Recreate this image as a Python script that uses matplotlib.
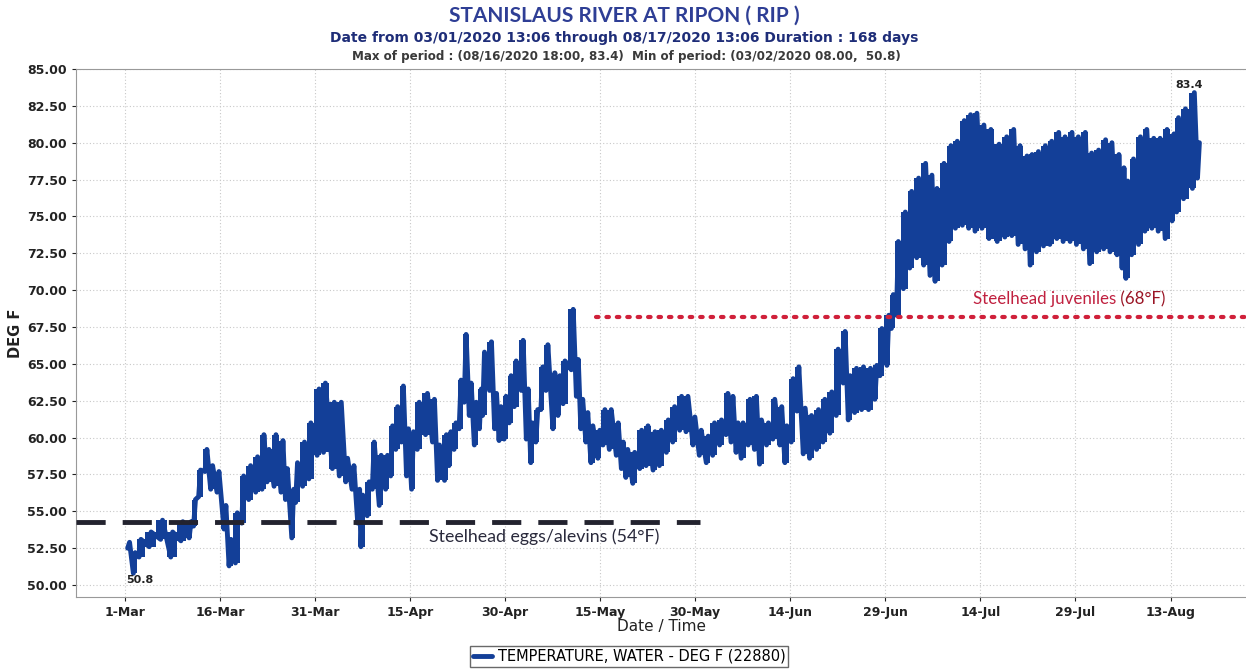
import numpy as np
import matplotlib
matplotlib.use('Agg')
import matplotlib.pyplot as plt
import matplotlib.dates as mdates
from datetime import datetime

# readings: days after 1-Mar, daily high / daily low (DEG F)
day = [0.6, 1.5, 2.4, 4.0, 5.8, 7.4, 9.0, 10.3, 11.0, 11.8,
       12.8, 13.7, 14.7, 15.8, 16.6, 17.6, 18.6, 19.7, 20.8, 21.8,
       22.6, 23.7, 24.8, 25.5, 26.5, 27.1, 28.2, 29.2, 30.5, 31.5,
       32.9, 34.0, 35.0, 36.0, 36.9, 37.4, 38.4, 39.2, 40.3, 41.3,
       42.1, 42.9, 43.8, 44.6, 45.4, 46.3, 47.6, 48.7, 49.5, 50.6,
       51.3, 52.1, 52.9, 53.7, 54.5, 55.3, 56.1, 56.6, 57.7, 58.5,
       59.2, 60.0, 60.8, 61.6, 62.7, 63.5, 64.2, 65.0, 65.8, 66.6,
       67.7, 68.5, 69.3, 70.6, 71.4, 72.1, 72.9, 73.7, 74.8, 75.6,
       76.6, 77.7, 78.5, 79.2, 80.3, 81.4, 82.4, 83.5, 84.5, 85.6,
       86.6, 87.7, 88.7, 89.8, 90.8, 91.9, 92.9, 94.0, 95.0, 95.8,
       96.6, 97.4, 98.5, 99.5, 100.3, 101.4, 102.4, 103.5, 104.3, 105.3,
       106.2, 107.2, 108.2, 109.3, 110.3, 111.4, 112.4, 113.5, 114.3, 115.3,
       116.4, 117.5, 118.5, 119.3, 120.4, 121.1, 121.9, 123.0, 124.0, 125.1,
       126.2, 127.2, 128.0, 129.1, 130.2, 131.2, 132.3, 133.3, 134.3, 135.4,
       136.5, 137.8, 139.0, 140.1, 141.1, 142.2, 143.0, 144.0, 145.1, 146.1,
       147.2, 148.2, 149.3, 150.3, 151.4, 152.4, 153.5, 154.6, 155.6, 156.7,
       157.5, 158.1, 159.0, 160.1, 161.1, 162.2, 163.2, 164.3, 165.4, 166.1,
       167.2, 168.6, 169.4]
high = [52.9, 52.2, 53.1, 53.6, 54.4, 53.6, 54.3, 54.3, 55.8, 57.8,
        59.2, 58.1, 57.7, 55.4, 53.1, 54.9, 57.4, 58.1, 58.7, 60.2,
        59.2, 60.2, 59.8, 57.9, 56.5, 58.3, 59.7, 61.0, 63.3, 63.7,
        62.4, 62.4, 58.6, 58.1, 56.5, 56.1, 57.0, 59.7, 58.8, 58.8,
        60.8, 62.1, 63.5, 60.6, 60.4, 62.4, 63.0, 62.6, 59.5, 60.2,
        60.4, 61.0, 63.9, 67.0, 63.7, 62.4, 63.3, 65.8, 66.5, 63.0,
        62.1, 62.8, 64.2, 65.2, 66.6, 63.3, 61.0, 61.9, 64.8, 66.3,
        64.4, 64.2, 65.2, 68.7, 65.3, 62.6, 61.7, 60.8, 60.5, 61.9,
        61.9, 61.0, 59.7, 59.2, 59.0, 60.5, 60.8, 60.4, 60.5, 61.2,
        62.1, 62.8, 62.8, 61.4, 60.5, 60.1, 61.0, 61.2, 63.0, 62.8,
        61.0, 61.0, 62.6, 62.8, 61.2, 61.0, 62.6, 62.1, 60.8, 64.0,
        64.8, 62.0, 61.5, 61.9, 62.6, 63.1, 66.0, 67.2, 64.2, 64.7,
        64.8, 64.7, 64.9, 67.4, 68.3, 69.7, 73.3, 75.3, 76.7, 77.6,
        78.6, 77.8, 76.9, 78.6, 79.8, 80.1, 81.5, 81.9, 82.0, 81.2,
        80.9, 79.9, 80.4, 80.9, 79.8, 79.1, 79.2, 79.4, 79.8, 80.1,
        80.7, 80.4, 80.7, 80.4, 80.7, 79.3, 79.5, 80.2, 80.0, 79.2,
        78.3, 77.4, 78.9, 80.4, 80.9, 80.3, 80.3, 80.9, 80.6, 81.7,
        82.3, 83.4, 80.0]
low = [52.5, 50.8, 51.9, 52.6, 53.1, 51.9, 53.0, 53.2, 54.0, 56.0,
       57.7, 56.5, 56.3, 53.8, 51.3, 51.5, 54.2, 55.8, 56.3, 56.5,
       57.0, 56.7, 56.3, 55.8, 53.2, 55.6, 56.7, 57.2, 58.8, 59.0,
       57.9, 57.4, 57.0, 56.5, 54.2, 52.6, 54.7, 56.5, 55.4, 56.5,
       57.4, 59.2, 59.7, 57.4, 56.5, 59.2, 60.2, 59.7, 57.1, 57.1,
       58.1, 59.2, 60.6, 62.4, 61.5, 59.5, 60.6, 61.5, 63.2, 60.6,
       59.8, 59.9, 61.0, 62.1, 63.2, 59.9, 58.3, 59.7, 61.9, 63.2,
       60.6, 61.5, 62.3, 64.6, 62.8, 60.6, 59.7, 58.3, 58.6, 59.5,
       59.2, 58.8, 57.9, 57.3, 56.9, 57.9, 58.1, 57.8, 58.1, 59.0,
       59.7, 60.5, 60.4, 59.5, 58.8, 58.3, 58.8, 59.5, 60.2, 59.7,
       59.0, 58.6, 59.5, 59.2, 58.2, 59.5, 59.9, 59.5, 58.3, 59.7,
       61.8, 58.9, 58.6, 59.2, 59.7, 60.3, 61.5, 63.7, 61.2, 61.7,
       61.9, 61.9, 62.6, 64.2, 64.9, 67.4, 68.3, 70.1, 71.5, 72.2,
       71.7, 71.0, 70.6, 71.7, 73.3, 74.2, 74.4, 74.2, 74.0, 74.2,
       73.5, 73.3, 73.6, 73.7, 73.1, 72.8, 71.7, 72.6, 73.0, 73.1,
       73.5, 73.3, 73.3, 73.1, 72.8, 71.8, 72.6, 72.8, 72.6, 72.4,
       71.5, 70.8, 72.4, 73.1, 74.0, 74.2, 74.0, 73.5, 74.7, 75.3,
       76.2, 76.9, 77.6]

tick_days = [0, 15, 30, 45, 60, 75, 90, 105, 120, 135, 150, 165]
tick_labels = ['1-Mar', '16-Mar', '31-Mar', '15-Apr', '30-Apr', '15-May',
               '30-May', '14-Jun', '29-Jun', '14-Jul', '29-Jul', '13-Aug']

eggs_level, eggs_end = 54.3, 90.8
juv_level, juv_start = 68.2, 74.4
min_day, min_val = 1.33, 50.8
max_day, max_val = 168.75, 83.4

base = mdates.date2num(datetime(2020, 3, 1))
xlo, xhi = base - 7.7, base + 177.1

# diurnal swing: low in the morning, high late in the day
t, v = [], []
for d, h, l in zip(day, high, low):
    t += [d - 0.15, d + 0.15]
    v += [l, h]
t = base + np.array(t)

fig = plt.figure(figsize=(12.46, 6.69), dpi=100)
ax = fig.add_axes([0.061, 0.1076, 0.94, 0.7893])

navy = '#133f98'
# hourly trace is so dense it reads as a solid band between the daily extremes
ax.fill_between(base + np.array(day), low, high, step='mid', color=navy, lw=0, zorder=3)
ax.plot(t, v, color=navy, lw=3.5, solid_joinstyle='round', solid_capstyle='round',
        zorder=3, label='TEMPERATURE, WATER - DEG F (22880)')

ax.hlines(eggs_level, xlo, base + eggs_end, colors='#23232f', lw=3.5,
          linestyles=(0, (6, 3.5)), zorder=4)
ax.hlines(juv_level, base + juv_start, xhi, colors='#d0203a', lw=3,
          linestyles=(0, (0.6, 1.9)), capstyle='round', zorder=4)

ax.text(base + 48, eggs_level - 1.0, 'Steelhead eggs/alevins (54°F)',
        fontsize=12.8, family='Lato', color='#2a2a3c', ha='left', va='center')
juv = ax.text(base + 133.8, juv_level + 1.2, 'Steelhead juveniles',
              fontsize=12.2, family='Lato', color='#c0203f', ha='left', va='center')
ax.annotate(' (68°F)', xy=(1, 0.5), xycoords=juv, fontsize=12.2, family='Lato',
            color='#9a1525', ha='left', va='center')

ax.text(base + min_day - 1.1, min_val - 0.1, '%.1f' % min_val, fontsize=8,
        fontweight='bold', color='#222222', ha='left', va='top', zorder=5)
ax.text(base + max_day - 0.8, max_val + 0.15, '%.1f' % max_val, fontsize=8,
        fontweight='bold', color='#222222', ha='center', va='bottom', zorder=5)

ax.set_xlim(xlo, xhi)
ax.set_ylim(49.19, 85.0)
ax.set_yticks(np.arange(50, 85.01, 2.5))
ax.yaxis.set_major_formatter(matplotlib.ticker.FormatStrFormatter('%.2f'))
ax.set_xticks([base + d for d in tick_days])
ax.set_xticklabels(tick_labels)
ax.tick_params(labelsize=9, colors='#222222', length=3, width=0.8)
for lab in ax.get_xticklabels() + ax.get_yticklabels():
    lab.set_fontweight('bold')
ax.grid(True, color='#c8c8c8', lw=0.8, linestyle=(0, (1, 2)))
for s in ax.spines.values():
    s.set_color('#999999')
    s.set_linewidth(0.8)

ax.set_ylabel('DEG F', fontsize=10.5, fontweight='bold', color='#222222', labelpad=3)
ax.set_xlabel('Date / Time', fontsize=11, color='#222222', labelpad=0)

fig.text(0.501, 0.976, 'STANISLAUS RIVER AT RIPON ( RIP )', ha='center', va='center',
         fontsize=15, fontweight='bold', color='#2e3e95', family='Lato')
fig.text(0.501, 0.943, 'Date from 03/01/2020 13:06 through 08/17/2020 13:06 Duration : 168 days',
         ha='center', va='center', fontsize=10, fontweight='bold', color='#1e2d78')
fig.text(0.503, 0.916, 'Max of period : (08/16/2020 18:00, 83.4)  Min of period: (03/02/2020 08.00,  50.8)',
         ha='center', va='center', fontsize=8.6, fontweight='bold', color='#3a3a3a')

leg = fig.legend(loc='upper center', bbox_to_anchor=(0.505, 0.034), fontsize=10.5,
                 frameon=True, fancybox=False, edgecolor='#444444', handlelength=1.3,
                 borderpad=0.18, handletextpad=0.4, borderaxespad=0)
leg.get_frame().set_linewidth(1.0)

fig.savefig('out.png', dpi=100)
